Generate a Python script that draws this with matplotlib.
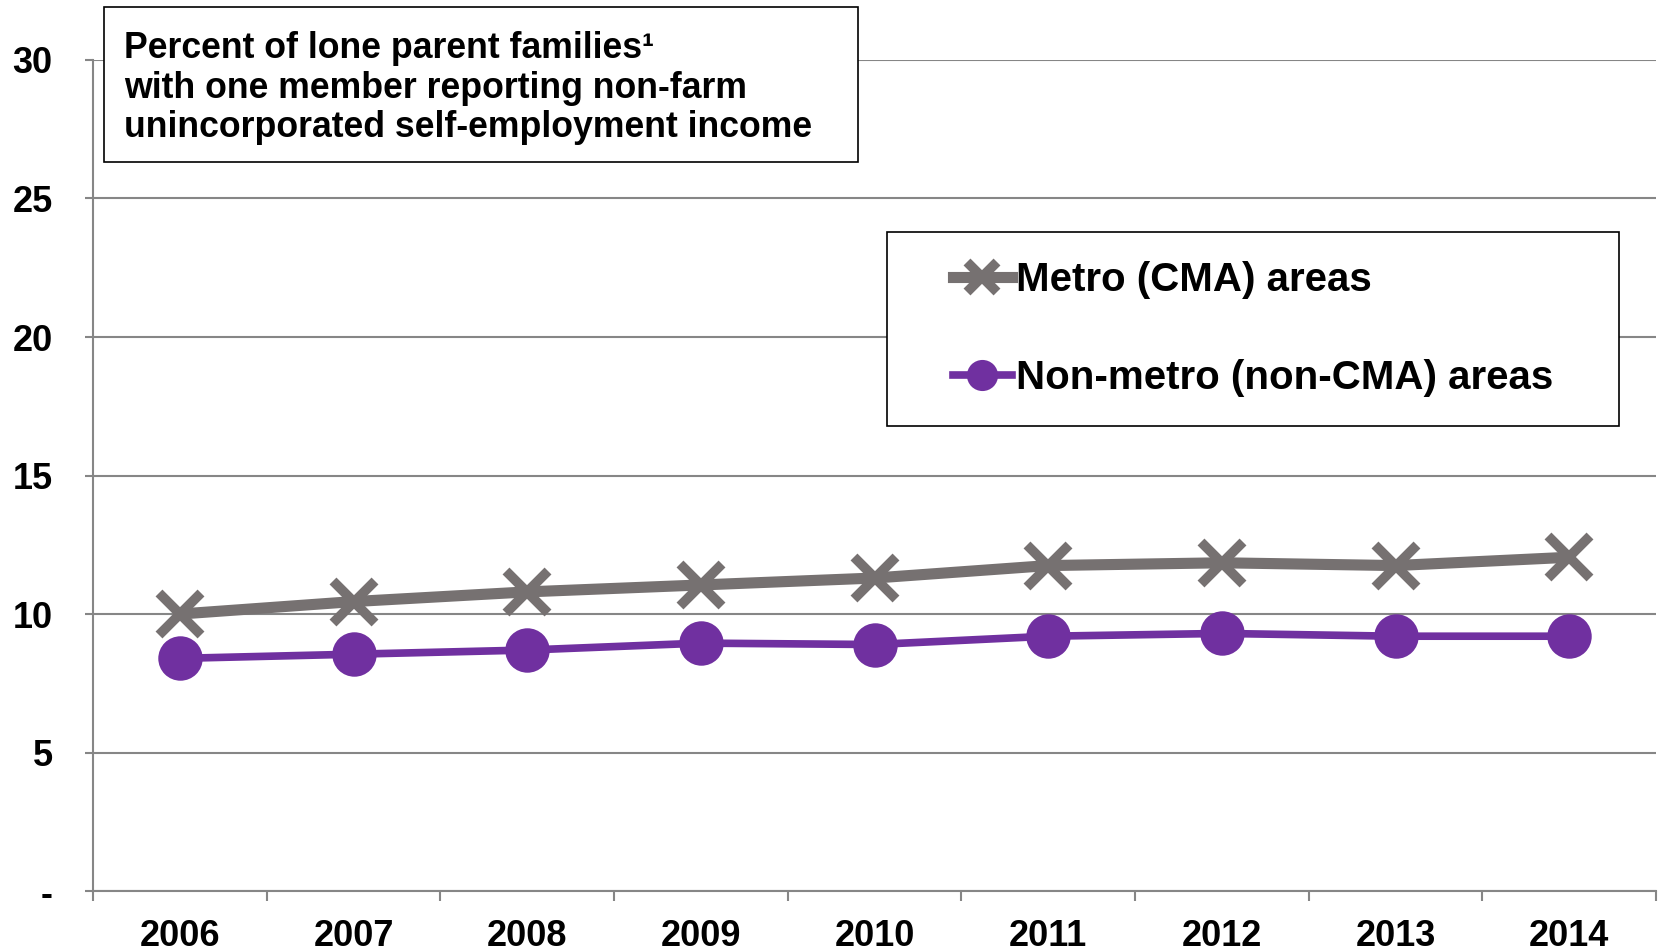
import matplotlib
matplotlib.use('Agg')
from matplotlib import pyplot as plt
from matplotlib.patches import Rectangle
import numpy as np

years = ['2006', '2007', '2008', '2009', '2010', '2011', '2012', '2013', '2014']
metro = [10.0, 10.45, 10.8, 11.05, 11.3, 11.75, 11.85, 11.75, 12.05]
non_metro = [8.4, 8.55, 8.7, 8.95, 8.9, 9.2, 9.3, 9.2, 9.2]
y_ticks = [0, 5, 10, 15, 20, 25, 30]
y_tick_labels = ['-', '5', '10', '15', '20', '25', '30']
title_lines = ['Percent of lone parent families\u00b9',
               'with one member reporting non-farm',
               'unincorporated self-employment income']

plt.rcParams['font.family'] = ['Liberation Sans', 'DejaVu Sans']
plt.rcParams['font.weight'] = 'bold'

grey = '#767171'
purple = '#7030A0'
axis_grey = '#868686'

fig = plt.figure(figsize=(16.59, 9.52), dpi=100)
ax = fig.add_axes([0.0561, 0.064, 0.9421, 0.873])
x = np.arange(len(years))

ax.plot(x, metro, color=grey, lw=8, marker='x', ms=30, mew=7,
        label='Metro (CMA) areas', zorder=3)
ax.plot(x, non_metro, color=purple, lw=5.5, marker='o', ms=32, mew=0,
        label='Non-metro (non-CMA) areas', zorder=3)

ax.set_xlim(-0.5, len(years) - 0.5)
ax.set_ylim(0, 30)
ax.set_yticks(y_ticks)
ax.set_yticklabels(y_tick_labels)
ax.set_xticks(x)
ax.set_xticklabels(years)
ax.set_xticks(np.arange(len(years) + 1) - 0.5, minor=True)
ax.tick_params(axis='x', which='major', length=0, pad=20, labelsize=26)
ax.tick_params(axis='x', which='minor', length=7, width=1.5, color=axis_grey)
ax.tick_params(axis='y', length=6, width=1.5, color=axis_grey, pad=23, labelsize=26)
ax.yaxis.grid(True, color=axis_grey, lw=1.5)
ax.set_axisbelow(True)
for s in ['top', 'right']:
    ax.spines[s].set_visible(False)
for s in ['left', 'bottom']:
    ax.spines[s].set_color(axis_grey)
    ax.spines[s].set_linewidth(1.5)

# title box
ax.add_patch(Rectangle((0.0627, 0.8298), 0.4545, 0.1628, transform=fig.transFigure,
                       facecolor='white', edgecolor='black', lw=1.2,
                       zorder=4, clip_on=False))
for line, yy in zip(title_lines, [0.949, 0.907, 0.866]):
    ax.text(0.0747, yy, line, transform=fig.transFigure, fontsize=25.7,
            fontweight='bold', va='center', ha='left', zorder=6)

# legend box
ax.add_patch(Rectangle((0.5347, 0.5525), 0.4412, 0.2038, transform=fig.transFigure,
                       facecolor='white', edgecolor='black', lw=1.2,
                       zorder=4, clip_on=False))
ax.legend(loc='center', bbox_to_anchor=(1253 / 1659, 1 - 329 / 952),
          bbox_transform=fig.transFigure, frameon=False,
          prop={'size': 29, 'weight': 'bold'}, handlelength=1.45,
          handletextpad=0.1, labelspacing=1.5, markerscale=0.7)

plt.savefig('out.png', dpi=100)
plt.close()
